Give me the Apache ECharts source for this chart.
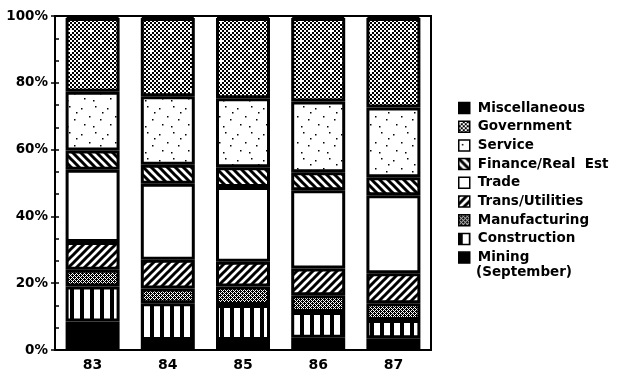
<!DOCTYPE html>
<html>
<head>
<meta charset="utf-8">
<script src="https://cdn.jsdelivr.net/npm/echarts@6/dist/echarts.min.js"></script>
<style>
html,body{margin:0;padding:0;background:#fff;}
#chart{width:621px;height:379px;}
</style>
</head>
<body>
<div id="chart"></div>
<script>
// ---- Data (percent of employment by industry) ----
const years = ['83', '84', '85', '86', '87'];
const mining        = [8.5, 3.0, 3.0, 3.7, 3.5];
const construction  = [10.5, 11.0, 10.5, 7.7, 5.5];
const manufacturing = [5.0, 4.4, 5.5, 5.0, 5.0];
const transUtil     = [8.3, 8.6, 7.4, 8.0, 9.0];
const trade         = [21.7, 22.8, 22.4, 23.4, 23.3];
const finance       = [5.7, 5.7, 5.9, 5.4, 5.4];
const service       = [17.6, 20.5, 20.7, 21.2, 20.9];
const government    = [22.1, 23.4, 24.0, 25.0, 26.8];
const misc          = [0.6, 0.6, 0.6, 0.6, 0.6];
const yTicks = ['0%', '20%', '40%', '60%', '80%', '100%'];

// ---- Pattern helpers ----
function tile(w, h, draw) {
  const c = document.createElement('canvas');
  c.width = w; c.height = h;
  const g = c.getContext('2d');
  g.fillStyle = '#fff'; g.fillRect(0, 0, w, h);
  g.fillStyle = '#000'; g.strokeStyle = '#000';
  draw(g, w, h);
  return { image: c, repeat: 'repeat' };
}
const pVertical = tile(10, 10, (g) => { g.fillRect(0, 0, 4, 10); });
const pDots = tile(4, 4, (g) => {
  for (let y = 0; y < 4; y++) for (let x = 0; x < 4; x++) if ((x + y) % 2 === 0 || (y === 1 && x === 2) || (y === 3 && x === 0)) g.fillRect(x, y, 1, 1);
});
const pSlash = tile(8, 8, (g) => {
  g.lineWidth = 3;
  g.beginPath();
  g.moveTo(-2, 10); g.lineTo(10, -2);
  g.moveTo(-6, 6); g.lineTo(6, -6);
  g.moveTo(2, 14); g.lineTo(14, 2);
  g.stroke();
});
const pBack = tile(8, 8, (g) => {
  g.lineWidth = 3;
  g.beginPath();
  g.moveTo(-2, -2); g.lineTo(10, 10);
  g.moveTo(-6, 2); g.lineTo(6, 14);
  g.moveTo(2, -6); g.lineTo(14, 6);
  g.stroke();
});
const pSparse = tile(26, 26, (g) => {
  const pts = [[3,4],[17,2],[11,12],[22,15],[6,20],[15,22],[24,8]];
  pts.forEach(p => g.fillRect(p[0], p[1], 1.5, 1.5));
});
const pGov = tile(20, 20, (g) => {
  for (let cy = 0; cy < 10; cy++) for (let cx = 0; cx < 10; cx++) {
    const hole = Math.abs(cx - 5) + Math.abs(cy - 5) < 2 || Math.abs(cx - 0) + Math.abs(cy - 0) < 2;
    if (!hole && (cx + cy) % 2 === 0) g.fillRect(cx * 2, cy * 2, 2, 2);
  }
});

const font = '"DejaVu Sans", sans-serif';
const seriesDefs = [
  ['Mining', mining, '#000'],
  ['Construction', construction, pVertical],
  ['Manufacturing', manufacturing, pDots],
  ['Trans/Utilities', transUtil, pSlash],
  ['Trade', trade, '#fff'],
  ['Finance/Real  Est', finance, pBack],
  ['Service', service, pSparse],
  ['Government', government, pGov],
  ['Miscellaneous', misc, '#000']
];

const chart = echarts.init(document.getElementById('chart'), null, { renderer: 'canvas' });
chart.setOption({
  animation: false,
  backgroundColor: '#fff',
  grid: { left: 55, right: 190, top: 16, bottom: 29, show: true, borderColor: '#000', borderWidth: 2, backgroundColor: 'transparent' },
  xAxis: {
    type: 'category',
    data: years,
    axisLine: { lineStyle: { color: '#000', width: 2 } },
    axisTick: { alignWithLabel: true, length: 4, lineStyle: { color: '#000', width: 2 } },
    axisLabel: { color: '#000', fontFamily: font, fontWeight: 'bold', fontSize: 14, margin: 8 }
  },
  yAxis: [{
    type: 'value', min: 0, max: 100, interval: 20,
    axisLine: { show: true, lineStyle: { color: '#000', width: 2 } },
    axisTick: { show: true, length: 4, lineStyle: { color: '#000', width: 1.5 } },
    splitLine: { show: false },
    axisLabel: { color: '#000', fontFamily: font, fontWeight: 'bold', fontSize: 13.5, margin: 7,
      formatter: (v) => yTicks[Math.round(v / 20)] }
  }, {
    type: 'value', min: 0, max: 100, interval: 100 / 15, position: 'left',
    axisLine: { show: false },
    axisTick: { show: true, inside: true, length: 4, lineStyle: { color: '#000', width: 1.5 } },
    splitLine: { show: false },
    axisLabel: { show: false }
  }],
  legend: {
    orient: 'vertical',
    left: 453, top: 96,
    itemWidth: 11, itemHeight: 11, itemGap: 4.7,
    icon: 'rect',
    itemStyle: { borderColor: '#000', borderWidth: 1.5 },
    textStyle: { color: '#000', fontFamily: font, fontWeight: 'bold', fontSize: 13.5, lineHeight: 14, padding: [0, 0, 0, 3] },
    data: ['Miscellaneous', 'Government', 'Service', 'Finance/Real  Est', 'Trade', 'Trans/Utilities', 'Manufacturing', 'Construction', 'Mining']
  },
  graphic: [{
    type: 'text', left: 476, top: 265,
    style: { text: '(September)', fill: '#000', font: 'bold 13.5px "DejaVu Sans", sans-serif' }
  }],
  series: seriesDefs.map(d => ({
    name: d[0],
    type: 'bar',
    stack: 'total',
    barWidth: 54,
    data: d[1],
    itemStyle: { color: d[2], borderColor: '#000', borderWidth: 3 }
  }))
});
</script>
</body>
</html>
